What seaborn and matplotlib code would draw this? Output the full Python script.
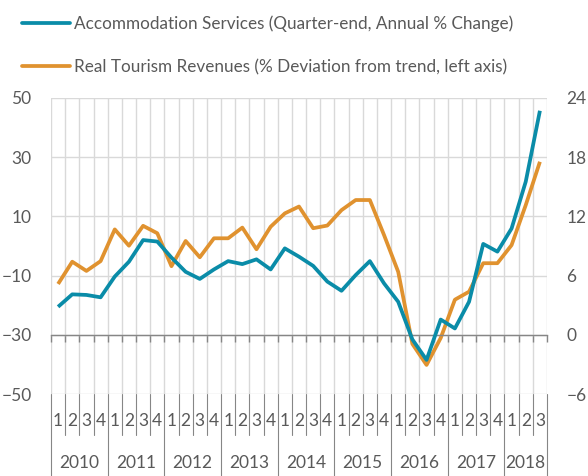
import numpy as np
import pandas as pd
import matplotlib
matplotlib.use("Agg")
import matplotlib.pyplot as plt
import seaborn as sns
from matplotlib.transforms import blended_transform_factory
from matplotlib.lines import Line2D

# ---------------- data ----------------
years = ["2010", "2011", "2012", "2013", "2014", "2015", "2016", "2017", "2018"]
quarters = ["1", "2", "3", "4"] * 8 + ["1", "2", "3"]

# Accommodation Services (Quarter-end, Annual % Change) - right axis
accommodation = [2.85, 4.11, 4.05, 3.81, 5.91, 7.41, 9.60, 9.45, 7.83, 6.39,
                 5.67, 6.63, 7.47, 7.17, 7.65, 6.63, 8.76, 7.92, 6.99, 5.40,
                 4.47, 6.06, 7.47, 5.22, 3.36, -0.45, -2.52, 1.56, 0.66, 3.36,
                 9.21, 8.43, 10.77, 15.51, 22.68]

# Real Tourism Revenues (% Deviation from trend) - left axis
tourism = [-12.8, -5.3, -8.4, -5.1, 5.6, 0.1, 6.8, 4.3, -6.8, 1.7,
           -3.8, 2.6, 2.6, 6.2, -1.1, 6.5, 11.0, 13.3, 6.0, 6.9,
           12.1, 15.5, 15.5, 3.7, -8.7, -33.0, -40.1, -31.0, -18.1, -15.4,
           -5.8, -5.8, 0.3, 13.8, 28.4]

left_ticks = [-50, -30, -10, 10, 30, 50]
right_ticks = [-6, 0, 6, 12, 18, 24]

label_acc = "Accommodation Services (Quarter-end, Annual % Change)"
label_tour = "Real Tourism Revenues (% Deviation from trend, left axis)"

teal = "#0a8ca8"
orange = "#e0922f"
grid_c = "#d9d9d9"
axis_c = "#868686"
text_c = "#595959"

sns.set_theme(style="white")
plt.rcParams['font.family'] = ['Lato', 'DejaVu Sans']

W, H = 588, 476
fig = plt.figure(figsize=(W / 100, H / 100), dpi=100)
L, R, T, B = 51, 547, 97.7, 394.3
ax = fig.add_axes([L / W, (H - B) / H, (R - L) / W, (B - T) / H])
ax2 = ax.twinx()

n = len(quarters)
df = pd.DataFrame({"idx": np.arange(n), "acc": accommodation, "tour": tourism})

sns.lineplot(data=df, x="idx", y="tour", ax=ax, color=orange, lw=2.7,
             legend=False, solid_capstyle="butt")
sns.lineplot(data=df, x="idx", y="acc", ax=ax2, color=teal, lw=2.7,
             legend=False, solid_capstyle="butt")

ax.set_xlim(-0.5, n - 0.5)
ax.set_ylim(-50, 50)
ax2.set_ylim(-6, 24)
ax.set_yticks(left_ticks)
ax2.set_yticks(right_ticks)
ax.set_xticks(np.arange(-0.5, n, 1))

ax.grid(True, color=grid_c, lw=1.0)
ax.set_axisbelow(True)
for s in ["left", "right", "top"]:
    ax.spines[s].set_visible(False)
for s in ax2.spines.values():
    s.set_visible(False)
ax.spines["bottom"].set_position(("data", -30))
ax.spines["bottom"].set_color(axis_c)
ax.spines["bottom"].set_linewidth(1.0)

ax.tick_params(axis="x", direction="out", length=5, color=axis_c, width=1.0,
               labelbottom=False, bottom=True)
ax.tick_params(axis="y", length=0, pad=14, labelsize=12.5, labelcolor=text_c)
ax2.tick_params(axis="y", length=0, pad=14, labelsize=12.5, labelcolor=text_c)
ax.set_xlabel("")
ax.set_ylabel("")
ax2.set_xlabel("")
ax2.set_ylabel("")

# category axis labels (multi-level)
trans = blended_transform_factory(ax.transData, ax.transAxes)
q_y = (B - 421) / (B - T)
y_y = (B - 463) / (B - T)
q_sep = (B - 435) / (B - T)
y_sep = (B - H - 2) / (B - T)
for i, q in enumerate(quarters):
    ax.text(i, q_y, q, transform=trans, ha="center", va="center",
            fontsize=12.5, color=text_c)
for k in range(n + 1):
    x = k - 0.5
    is_year = (k % 4 == 0) or (k == n)
    ax.plot([x, x], [0, y_sep if is_year else q_sep], transform=trans,
            color=axis_c, lw=0.8, clip_on=False)
for j, yr in enumerate(years):
    start = 4 * j
    end = min(4 * j + 3, n - 1)
    ax.text((start + end) / 2, y_y, yr, transform=trans, ha="center",
            va="center", fontsize=12.5, color=text_c)

handles = [Line2D([], [], color=teal, lw=2.7), Line2D([], [], color=orange, lw=2.7)]
fig.legend(handles, [label_acc, label_tour], loc="upper left",
           bbox_to_anchor=(22 / W, 1 - 15 / H), frameon=False,
           borderaxespad=0, borderpad=0, handlelength=2.8, handletextpad=0.23,
           labelspacing=1.62, prop={"size": 12.3}, labelcolor=text_c)

fig.savefig("out.png", dpi=100)
